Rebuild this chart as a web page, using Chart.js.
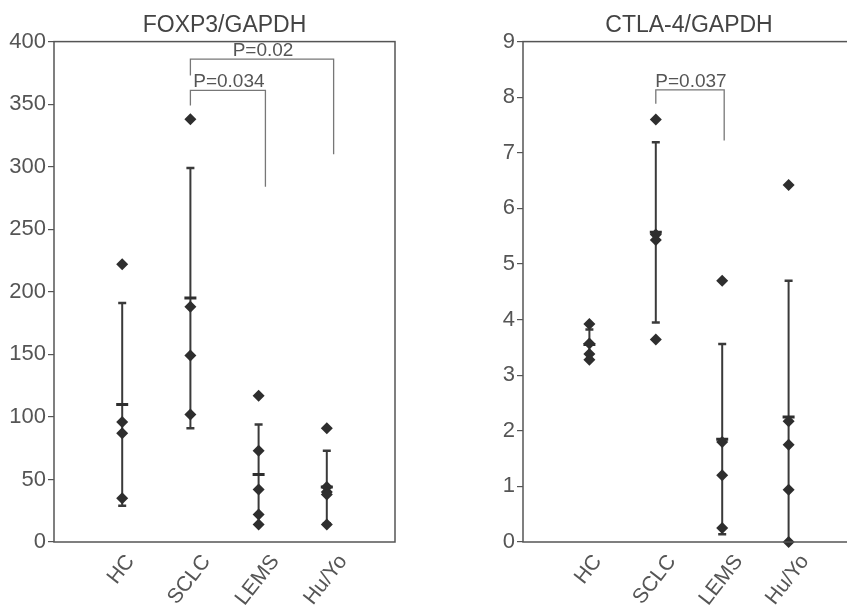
<!DOCTYPE html>
<html>
<head>
<meta charset="utf-8">
<script src="https://cdn.jsdelivr.net/npm/chart.js@4.4.1/dist/chart.umd.min.js"></script>
<style>
  html, body { margin: 0; padding: 0; background: #fff; overflow: hidden; }
  .panel { position: absolute; top: 0; height: 608px; }
  #foxp3-panel { left: 0; width: 420px; }
  #ctla4-panel { left: 440px; width: 440px; }
</style>
</head>
<body>
<div class="panel" id="foxp3-panel"><canvas id="foxp3-chart"></canvas></div>
<div class="panel" id="ctla4-panel"><canvas id="ctla4-chart"></canvas></div>
<script>
const groups = ["HC", "SCLC", "LEMS", "Hu/Yo"];

// FOXP3/GAPDH, one list of samples per group
const foxp3Values = [
  [222, 96, 87, 35],
  [338, 188, 149, 102],
  [117, 73, 42, 22, 14],
  [91, 44, 40, 38, 14],
];
const foxp3Mean = [110, 195, 54, 44];
const foxp3Sd = [81, 104, 40, 29];
// [from, to, top, left end, right end, label]
const foxp3Brackets = [
  [2, 3.1, 361, 349, 284, "P=0.034"],
  [2, 4.1, 386, 373, 310, "P=0.02"],
];

// CTLA-4/GAPDH
const ctla4Values = [
  [3.92, 3.57, 3.38, 3.28],
  [7.6, 5.53, 5.43, 3.64],
  [4.7, 1.8, 1.2, 0.25],
  [6.42, 2.17, 1.75, 0.94, 0],
];
const ctla4Mean = [3.55, 5.57, 1.85, 2.25];
const ctla4Sd = [0.27, 1.62, 1.71, 2.45];
const ctla4Brackets = [
  [2, 3.03, 8.13, 7.88, 7.22, "P=0.037"],
];

const fontFamily = '"Liberation Sans", Arial, sans-serif';
const ink = "#2e2e2e";
const axisGray = "#555";
const groupFontSize = 21;
const groupAngle = (52 * Math.PI) / 180;

function makeChart(canvasId, cfg) {
  const points = [];
  cfg.values.forEach((list, i) => {
    for (const v of list) points.push({ x: i + 1, y: v });
  });

  const datasets = [
    {
      data: points,
      pointStyle: "rectRot",
      pointRadius: 6,
      backgroundColor: ink,
      borderWidth: 0,
      clip: false,
      order: 0,
    },
    {
      data: cfg.mean.map((m, i) => ({ x: i + 1, y: m })),
      pointStyle: "line",
      pointRadius: 6,
      borderColor: ink,
      pointBorderWidth: 3,
      order: 1,
    },
  ];

  cfg.mean.forEach((m, i) => {
    datasets.push({
      data: [
        { x: i + 1, y: m - cfg.sd[i] },
        { x: i + 1, y: m + cfg.sd[i] },
      ],
      showLine: true,
      borderColor: "#3a3a3a",
      borderWidth: 2,
      pointStyle: "line",
      pointRadius: 4,
      pointBorderWidth: 2.5,
      clip: 0,
      order: 2,
    });
  });

  for (const b of cfg.brackets) {
    const [from, to, top, leftEnd, rightEnd] = b;
    datasets.push({
      data: [
        { x: from, y: leftEnd },
        { x: from, y: top },
        { x: to, y: top },
        { x: to, y: rightEnd },
      ],
      showLine: true,
      borderColor: "#777",
      borderWidth: 1.3,
      pointRadius: 0,
      clip: false,
      order: 3,
    });
  }

  const frameAndLabels = {
    id: "frameAndLabels",
    afterDatasetsDraw(chart) {
      const { ctx, chartArea, scales } = chart;
      ctx.save();
      ctx.strokeStyle = axisGray;
      ctx.lineWidth = 1.5;
      ctx.strokeRect(chartArea.left, chartArea.top, chartArea.right - chartArea.left, chartArea.bottom - chartArea.top);

      // p-value labels over the brackets
      ctx.fillStyle = "#555";
      ctx.font = `19px ${fontFamily}`;
      ctx.textAlign = "center";
      ctx.textBaseline = "alphabetic";
      for (const b of cfg.brackets) {
        const x1 = scales.x.getPixelForValue(b[0]);
        const x2 = scales.x.getPixelForValue(b[1]);
        const y = scales.y.getPixelForValue(b[2]);
        ctx.fillText(b[5], (x1 + x2) / 2 + 1, y - 3);
      }

      // group names, slanted and centred under each column
      ctx.font = `${groupFontSize}px ${fontFamily}`;
      ctx.textBaseline = "middle";
      const capH = groupFontSize * 0.72;
      groups.forEach((name, i) => {
        const x = scales.x.getPixelForValue(i + 1);
        const w = ctx.measureText(name).width;
        const extent = w * Math.sin(groupAngle) + capH * Math.cos(groupAngle);
        ctx.save();
        ctx.translate(x - 1, chartArea.bottom + 11 + extent / 2);
        ctx.rotate(-groupAngle);
        ctx.fillText(name, 0, 0);
        ctx.restore();
      });
      ctx.restore();
    },
  };

  return new Chart(document.getElementById(canvasId), {
    type: "scatter",
    data: { datasets },
    options: {
      responsive: true,
      maintainAspectRatio: false,
      animation: false,
      layout: { padding: { left: 0, right: 25, top: 0, bottom: 0 } },
      plugins: {
        legend: { display: false },
        tooltip: { enabled: false },
        title: {
          display: true,
          text: cfg.title,
          fullSize: false,
          color: "#444",
          font: { family: fontFamily, size: 23, weight: "normal" },
          padding: { top: 12, bottom: 2 },
        },
      },
      scales: {
        x: {
          type: "linear",
          min: 0,
          max: 5,
          afterFit: (scale) => { scale.height = 66; },
          border: { display: false },
          grid: { display: false, drawTicks: false },
          ticks: { stepSize: 1, display: false },
        },
        y: {
          min: 0,
          max: cfg.yMax,
          afterFit: (scale) => { scale.width = cfg.yAxisWidth; },
          border: { display: false },
          grid: {
            drawOnChartArea: false,
            drawTicks: true,
            tickLength: 6,
            color: axisGray,
            lineWidth: 1.2,
          },
          ticks: {
            stepSize: cfg.yStep,
            padding: 2,
            color: "#555",
            font: { family: fontFamily, size: 22 },
          },
        },
      },
    },
    plugins: [frameAndLabels],
  });
}

makeChart("foxp3-chart", {
  title: "FOXP3/GAPDH",
  values: foxp3Values,
  mean: foxp3Mean,
  sd: foxp3Sd,
  brackets: foxp3Brackets,
  yMax: 400,
  yStep: 50,
  yAxisWidth: 54,
});

makeChart("ctla4-chart", {
  title: "CTLA-4/GAPDH",
  values: ctla4Values,
  mean: ctla4Mean,
  sd: ctla4Sd,
  brackets: ctla4Brackets,
  yMax: 9,
  yStep: 1,
  yAxisWidth: 83,
});
</script>
</body>
</html>
